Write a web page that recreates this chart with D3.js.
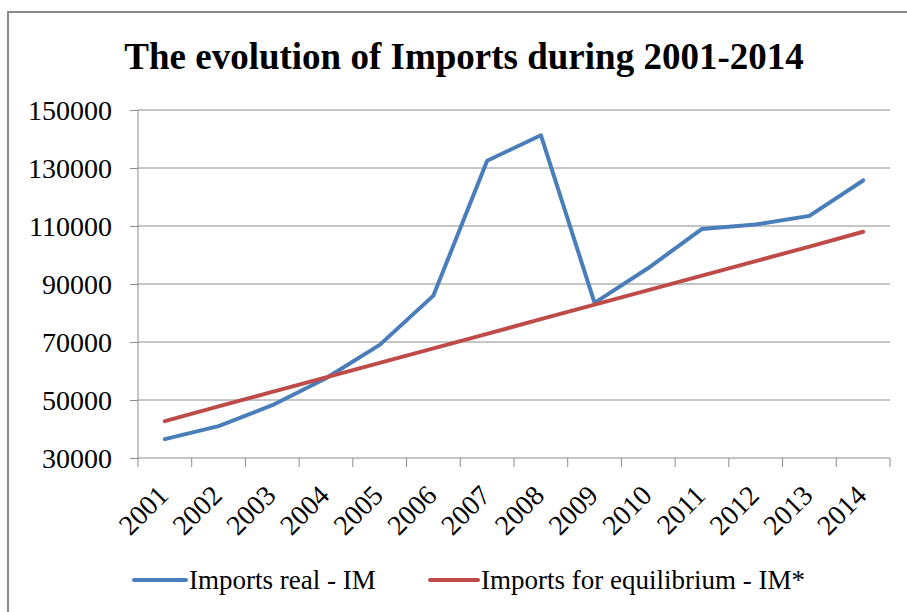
<!DOCTYPE html>
<html>
<head>
<meta charset="utf-8">
<script src="https://cdn.jsdelivr.net/npm/d3@7"></script>
<style>
  html, body { margin: 0; padding: 0; background: #fff; }
  svg { display: block; }
</style>
</head>
<body>
<svg id="chart" width="907" height="612"></svg>
<script>
// Imports, annual values 2001-2014
const years = ["2001","2002","2003","2004","2005","2006","2007","2008","2009","2010","2011","2012","2013","2014"];
const importsReal = [36500, 41000, 48200, 57500, 69000, 86000, 132500, 141300, 83500, 95500, 109000, 110500, 113500, 125700];
const importsEquilibrium = [42700, 47800, 52800, 57800, 62800, 67800, 72800, 77900, 82900, 87900, 92900, 97900, 102900, 108000];
const yTicks = [30000, 50000, 70000, 90000, 110000, 130000, 150000];
const seriesNames = ["Imports real - IM", "Imports for equilibrium - IM*"];
const seriesColors = ["#4A7EBB", "#BE4B48"];
const titleText = "The evolution of Imports during 2001-2014";

const FONT = "Liberation Serif, Times New Roman, serif";
const svg = d3.select("#chart");
const W = 907, H = 612;
const plot = { left: 138, right: 890, top: 110, bottom: 458 };

// outer frame
svg.append("rect")
  .attr("x", 8).attr("y", 12)
  .attr("width", W + 20).attr("height", H + 20)
  .attr("fill", "#fff")
  .attr("stroke", "#8a8a8a").attr("stroke-width", 2);

// title
svg.append("text")
  .attr("x", 464).attr("y", 69)
  .attr("text-anchor", "middle")
  .attr("font-family", FONT)
  .attr("font-size", 37).attr("font-weight", "bold")
  .text(titleText);

const x = d3.scaleBand().domain(years).range([plot.left, plot.right]);
const y = d3.scaleLinear().domain([30000, 150000]).range([plot.bottom, plot.top]);

// horizontal gridlines
svg.append("g")
  .selectAll("line")
  .data(yTicks.slice(1))
  .join("line")
  .attr("x1", plot.left).attr("x2", plot.right)
  .attr("y1", d => y(d)).attr("y2", d => y(d))
  .attr("stroke", "#8c8c8c").attr("stroke-width", 1);

// y axis
const yAxis = svg.append("g")
  .attr("transform", `translate(${plot.left},0)`)
  .call(d3.axisLeft(y).tickValues(yTicks).tickFormat(d3.format("d")).tickSize(8).tickPadding(18));
yAxis.attr("font-family", FONT).attr("font-size", 28);
yAxis.select(".domain").attr("stroke", "#8c8c8c").attr("d", `M0,${plot.top}V${plot.bottom}`);
yAxis.selectAll(".tick line").attr("stroke", "#8c8c8c");
yAxis.selectAll(".tick text").attr("fill", "#000").attr("dy", "0.34em");

// x axis: ticks on band boundaries, labels rotated under band centres
const xAxis = svg.append("g")
  .attr("transform", `translate(0,${plot.bottom})`);
xAxis.append("line")
  .attr("x1", plot.left).attr("x2", plot.right)
  .attr("stroke", "#8c8c8c");
const boundaries = years.map(d => x(d)).concat([plot.right]);
xAxis.selectAll("line.tk")
  .data(boundaries)
  .join("line").attr("class", "tk")
  .attr("x1", d => d).attr("x2", d => d)
  .attr("y1", 0).attr("y2", 9)
  .attr("stroke", "#8c8c8c");
xAxis.selectAll("text")
  .data(years)
  .join("text")
  .attr("transform", d => `translate(${x(d) + x.bandwidth() / 2 + 5},39) rotate(-45)`)
  .attr("text-anchor", "end")
  .attr("font-family", FONT)
  .attr("font-size", 28)
  .text(d => d);

// series lines
const line = d3.line()
  .x((d, i) => x(years[i]) + x.bandwidth() / 2)
  .y(d => y(d));

[importsReal, importsEquilibrium].forEach((vals, i) => {
  svg.append("path")
    .datum(vals)
    .attr("fill", "none")
    .attr("stroke", seriesColors[i])
    .attr("stroke-width", 4)
    .attr("stroke-linejoin", "round")
    .attr("stroke-linecap", "round")
    .attr("d", line);
});

// legend
const legendItems = [
  { x1: 134, x2: 186, tx: 189 },
  { x1: 430, x2: 478, tx: 481 }
];
const legend = svg.append("g");
legendItems.forEach((it, i) => {
  legend.append("line")
    .attr("x1", it.x1).attr("x2", it.x2)
    .attr("y1", 580).attr("y2", 580)
    .attr("stroke", seriesColors[i]).attr("stroke-width", 4)
    .attr("stroke-linecap", "round");
  legend.append("text")
    .attr("x", it.tx).attr("y", 589)
    .attr("font-family", FONT)
    .attr("font-size", 27)
    .text(seriesNames[i]);
});
</script>
</body>
</html>
